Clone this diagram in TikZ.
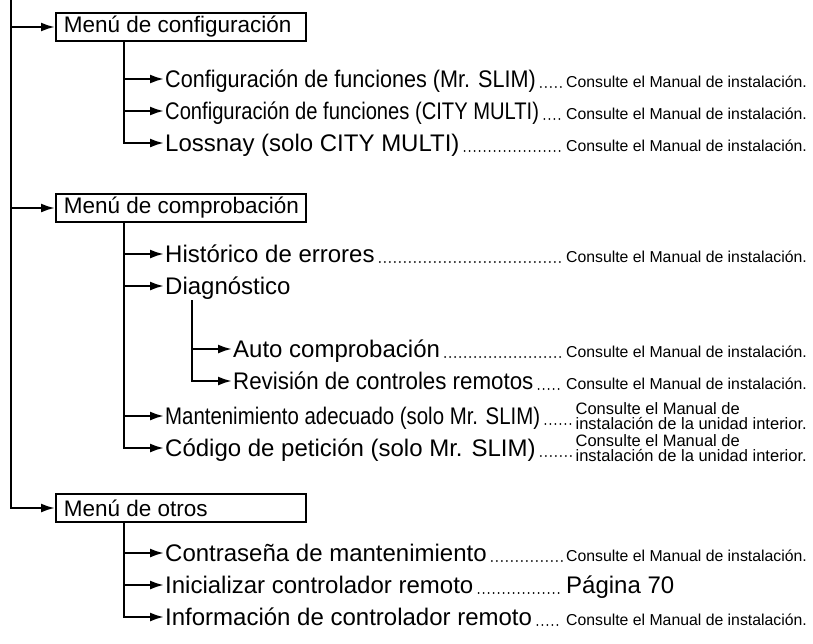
\documentclass[tikz,border=0pt]{standalone}
\usepackage{fontspec}
\setmainfont{Liberation Sans}
\usepackage{graphicx}
\usetikzlibrary{arrows.meta,positioning}

\newcommand\squeeze[2][0.86]{\scalebox{#1}[1]{#2}}
\newcommand\menutext[1]{\makebox[234pt][l]{#1}}

\tikzset{
  menu/.style={draw,line width=1.8pt,anchor=west,minimum height=28pt,
    inner xsep=8pt,inner ysep=0pt,font=\fontsize{22.5}{24}\selectfont},
  item/.style={anchor=west,inner sep=1pt,text height=18pt,text depth=2pt,
    font=\fontsize{24}{26}\selectfont},
  note/.style={anchor=base east,inner sep=1pt,font=\fontsize{15.8}{17}\selectfont},
  note2/.style={anchor=east,align=left,inner sep=1pt,font=\fontsize{16.5}{15}\selectfont},
  link/.style={line width=2.2pt,-{Latex[length=14pt,width=9pt]}},
  leader/.style={line width=2pt,dash pattern=on 0pt off 5pt,line cap=round,
    shorten <=4pt,shorten >=3pt}
}

\begin{document}
\begin{tikzpicture}[x=1pt,y=-1pt]
\useasboundingbox (0,0) rectangle (813,643);
\coordinate (trunk) at (11,0);
\coordinate (s1) at (124,0);
\coordinate (edge) at (808,0);
\coordinate (pg) at (565,0);

% the three menus
\node[menu] (cfg) at (55,27) {\menutext{Menú de configuración}};
\node[menu] (cmp) at (55,208) {\menutext{Menú de comprobación}};
\node[menu] (oth) at (55,508) {\menutext{Menú de otros}};
\draw[link] (trunk) |- (oth);
\draw[link] (cfg.west -| trunk) -- (cfg);
\draw[link] (cmp.west -| trunk) -- (cmp);

% configuracion
\node[item] (c1) at (164,79) {\squeeze[0.9]{Configuración de funciones (Mr. SLIM)}};
\node[item] (c2) at (164,111) {\squeeze[0.84]{Configuración de funciones (CITY MULTI)}};
\node[item] (c3) at (164,143) {Lossnay (solo CITY MULTI)};
\draw[link] (cfg.south -| s1) |- (c3);
\foreach \i in {c1,c2}
  \draw[link] (\i.west -| s1) -- (\i);

% comprobacion
\node[item] (h1) at (164,254) {Histórico de errores};
\node[item] (h2) at (164,286) {Diagnóstico};
\node[item] (d1) at (232,349) {Auto comprobación};
\node[item] (d2) at (232,381) {\squeeze[0.93]{Revisión de controles remotos}};
\node[item] (h3) at (164,416) {\squeeze[0.85]{Mantenimiento adecuado (solo Mr. SLIM)}};
\node[item] (h4) at (164,448) {Código de petición (solo Mr. SLIM)};
\coordinate (s2) at (192,300);
\draw[link] (cmp.south -| s1) |- (h4);
\foreach \i in {h1,h2,h3}
  \draw[link] (\i.west -| s1) -- (\i);
\draw[link] (s2) |- (d2);
\draw[link] (d1.west -| s2) -- (d1);

% otros
\node[item] (o1) at (164,553) {Contraseña de mantenimiento};
\node[item] (o2) at (164,585) {Inicializar controlador remoto};
\node[item] (o3) at (164,617) {Información de controlador remoto};
\draw[link] (oth.south -| s1) |- (o3);
\foreach \i in {o1,o2}
  \draw[link] (\i.west -| s1) -- (\i);

% references on the right
\foreach \i in {c1,c2,c3,h1,d1,d2,o1,o3}{
  \node[note] (n\i) at (\i.base -| edge) {Consulte el Manual de instalación.};
  \draw[leader] (\i.base east) -- (n\i.base west);
}
\foreach \i in {h3,h4}{
  \node[note2] (n\i) at (\i.west -| edge) {Consulte el Manual de\\instalación de la unidad interior.};
  \draw[leader] (\i.base east) -- (\i.base -| n\i.west);
}
\node[item,anchor=base west] (p70) at (o2.base -| pg) {Página 70};
\draw[leader] (o2.base east) -- (p70.base west);
\end{tikzpicture}
\end{document}
